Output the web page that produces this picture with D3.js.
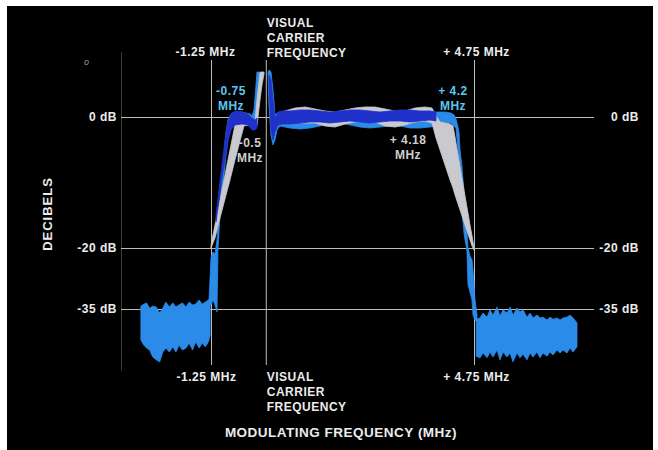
<!DOCTYPE html>
<html lang="en">
<head>
    <meta charset="UTF-8">
    <title>Visual transmitter amplitude response</title>
    <style>
        body { margin: 0; background: #fff; }
        svg { display: block; }
        .axis text, .lbl {
            font-family: "Liberation Sans", Arial, sans-serif;
            font-weight: bold;
            font-size: 12px;
            letter-spacing: 0.5px;
            fill: #ececec;
        }
        .axis line { stroke: #bdbdbd; }
        .axis .domain { stroke: #3a3a3a; }
        .cyan { fill: #5cc6f0; }
        .greyTxt { fill: #cfcfcf; }
    </style>
</head>
<body>
    <svg id="chart" width="658" height="450"></svg>

    <script src="https://cdn.jsdelivr.net/npm/d3@7"></script>
    <script>
        // ticks and labels
        const freqTicks = [-1.25, 0, 4.75];
        const freqTickLabels = ["-1.25 MHz", "", "+ 4.75 MHz"];
        const carrierLines = ["VISUAL", "CARRIER", "FREQUENCY"];
        const dbTicks = [0, -20, -35];
        const dbTickLabels = ["0 dB", "-20 dB", "-35 dB"];
        const noteLines = [["-0.75", "MHz"], ["-0.5", "MHz"], ["+ 4.2", "MHz"], ["+ 4.18", "MHz"]];

        // light blue trace: MHz, upper and lower edge in dB (null = gap at the carrier)
        const envFreq = [-1.296, -1.25, -1.205, -1.159, -1.113, -1.091, -1.045, -0.999, -0.954, -0.908, -0.862, -0.794, -0.703, -0.543, -0.36, -0.315, -0.269, -0.224, -0.201, -0.155, -0.132,
            0,
            0.05, 0.073, 0.119, 0.164, 0.21, 0.256, 0.324, 0.552, 0.78, 1.008, 1.237, 1.465, 1.693, 1.921, 2.149, 2.377, 2.605, 2.834, 3.062, 3.29, 3.518, 3.746, 3.906, 4.089,
            4.225, 4.294, 4.339, 4.385, 4.408, 4.431, 4.453, 4.476, 4.522, 4.545, 4.568, 4.59, 4.613, 4.659, 4.705, 4.727, 4.773, 4.819];
        const envHi = [-32.79, -22.46, -20.98, -21.48, -18.78, -16.49, -12.67, -9.31, -5.8, -2.44, -0.46, 0.46, 0.76, 0.76, 0.46, 0.15, 1.07, 4.89, 6.87, 6.87, 5.95,
            null,
            6.87, 7.18, 6.87, 4.12, 0.31, 0.61, 0.76, 0.76, 0.61, 0.76, 0.76, 0.61, 0.76, 0.92, 0.76, 0.76, 0.76, 0.76, 0.76, 0.76, 0.76, 0.76, 0.76, 0.76,
            0.61, 0.31, -0.31, -1.53, -2.44, -5.04, -6.26, -7.63, -11.45, -12.67, -14.96, -17.71, -20.0, -21.97, -22.95, -25.41, -32.79, -36.47];
        const envLo = [-34.26, -34.02, -32.79, -34.02, -35.74, -20.49, -14.96, -11.91, -8.85, -5.8, -3.51, -1.68, -1.07, -1.22, -1.37, -1.68, -1.68, -1.22, 1.07, 4.89, 5.65,
            null,
            6.56, 1.83, -2.75, -4.27, -3.51, -1.98, -1.37, -1.68, -1.83, -1.68, -1.37, -1.07, -0.92, -1.22, -1.53, -1.68, -1.53, -1.37, -1.37, -1.68, -1.68, -1.53, -1.37, -0.92,
            -0.92, -1.37, -1.68, -5.04, -7.63, -10.08, -12.67, -14.35, -17.71, -18.78, -19.54, -20.98, -29.1, -30.82, -32.79, -36.47, -37.7, -38.2];

        // grey trace
        const greyFreq = [-1.25, -1.159, -1.045, -0.931, -0.817, -0.703, -0.589, -0.497, -0.36, -0.246, -0.201, -0.132, -0.087, -0.041,
            0,
            0.278, 0.438, 0.666, 0.894, 1.123, 1.351, 1.579, 1.807, 2.035, 2.263, 2.491, 2.72, 2.948, 3.176, 3.404, 3.632, 3.792,
            3.883, 3.975, 4.089, 4.203, 4.271, 4.317, 4.431, 4.545, 4.613, 4.659, 4.705, 4.75];
        const greyHi = [-19.54, -16.49, -12.67, -8.85, -5.04, -1.22, -0.46, 0, 0.15, -0.76, 2.6, 6.87, 6.87, 6.87,
            null,
            0.61, 0.92, 1.37, 1.53, 1.22, 0.92, 0.76, 1.07, 1.37, 1.53, 1.53, 1.22, 0.92, 0.92, 1.37, 1.53, 1.37,
            0.15, -0.76, -0.92, -1.07, -1.37, -3.05, -7.63, -12.06, -14.66, -16.49, -18.17, -20.0];
        const greyLo = [-20.0, -18.47, -15.42, -12.52, -9.62, -6.56, -3.66, -1.37, -1.07, -1.37, -1.37, 2.6, 4.89, 6.56,
            null,
            -0.46, -0.76, -0.76, -0.92, -0.92, -1.37, -1.53, -1.07, -0.76, -0.61, -0.76, -1.37, -1.53, -1.22, -0.76, -0.61, -0.92,
            -3.21, -5.04, -7.33, -9.62, -10.84, -11.91, -14.2, -16.49, -17.86, -18.78, -19.69, -20.49];

        // dark blue trace
        const darkFreq = [-1.136, -1.068, -0.999, -0.931, -0.862, -0.794, -0.703, -0.543, -0.406, -0.315, -0.246, -0.201,
            0,
            0.073, 0.119, 0.164, 0.21, 0.278, 0.37, 0.552, 0.78, 1.008, 1.237, 1.465, 1.693, 1.921, 2.149, 2.377, 2.605, 2.834, 3.062, 3.29, 3.518, 3.746, 3.883];
        const darkHi = [-14.96, -11.15, -7.33, -3.51, -0.76, 0.46, 0.92, 0.76, 0.46, -0.15, -0.46, -0.15,
            null,
            6.41, 5.65, 2.6, -0.15, 0.76, 0.92, 0.92, 1.07, 1.07, 0.92, 0.76, 0.92, 1.07, 1.07, 0.92, 0.76, 0.92, 1.07, 1.07, 0.92, 0.92, 0.76];
        const darkLo = [-16.03, -12.67, -9.31, -6.56, -3.51, -1.98, -1.22, -1.07, -1.22, -1.98, -1.98, -1.68,
            null,
            4.89, -1.98, -3.51, -2.29, -1.22, -1.07, -1.07, -0.92, -0.76, -0.76, -0.92, -0.76, -0.61, -0.76, -0.92, -0.76, -0.61, -0.61, -0.76, -0.61, -0.46, -0.61];

        // out-of-band noise floors
        const floorLFreq = [-2.85, -2.78, -2.72, -2.65, -2.58, -2.5, -2.42, -2.35, -2.28, -2.2, -2.12, -2.05, -1.98, -1.9, -1.82, -1.75, -1.67, -1.6, -1.52, -1.45, -1.38, -1.31, -1.27];
        const floorLHi = [-34.3, -33.8, -33.5, -34.8, -34.3, -34.5, -36.0, -34.8, -33.3, -34.5, -33.5, -34.5, -34.0, -33.5, -34.5, -33.3, -34.0, -33.8, -32.8, -33.8, -33.3, -32.8, -32.3];
        const floorLLo = [-42.6, -43.9, -44.6, -45.1, -46.8, -47.5, -48.0, -45.6, -44.6, -45.6, -44.3, -45.6, -43.9, -45.1, -44.6, -43.4, -45.1, -43.1, -44.6, -43.4, -44.3, -43.1, -41.4];
        const floorRFreq = [4.8, 4.887, 4.956, 5.047, 5.115, 5.184, 5.275, 5.343, 5.412, 5.503, 5.572, 5.64, 5.731, 5.8, 5.868, 5.959, 6.028, 6.096, 6.187, 6.256, 6.324, 6.416, 6.484, 6.553, 6.644, 6.713, 6.781, 6.872, 6.941, 7.009, 7.1];
        const floorRHi = [-37.5, -37.2, -36.0, -37.0, -35.2, -36.5, -34.5, -36.7, -35.2, -36.0, -34.5, -36.5, -34.75, -35.7, -35.2, -37.0, -36.0, -37.2, -36.5, -37.2, -37.0, -37.7, -37.0, -37.5, -37.2, -37.7, -37.2, -37.0, -36.5, -37.2, -38.4];
        const floorRLo = [-46.6, -47.0, -45.8, -47.0, -45.6, -46.8, -45.1, -47.5, -45.6, -46.8, -45.8, -48.0, -45.8, -47.0, -46.1, -47.5, -45.8, -46.8, -45.6, -47.0, -45.8, -46.6, -45.6, -46.3, -45.1, -45.8, -45.1, -45.8, -44.6, -45.6, -44.3];

        const rows = (f, hi, lo) => f.map((d, i) => ({f: d, hi: hi[i], lo: lo[i]}));

        const svg = d3.select("#chart");
        svg.append("rect")
           .attr("x", 7).attr("y", 6)
           .attr("width", 646).attr("height", 444)
           .attr("fill", "#000");

        const x = d3.scaleLinear().domain([-1.25, 4.75]).range([211, 474]);
        // the scale is stretched between 0 and -20 dB, as in the original drawing
        const y = d3.scaleLinear().domain([-50, -35, -20, 0, 10]).range([370, 309, 248, 117, 51.5]);

        // horizontal grid with left labels
        svg.append("g")
           .attr("class", "axis")
           .attr("transform", "translate(121,0)")
           .call(d3.axisLeft(y).tickValues(dbTicks).tickFormat((d, i) => dbTickLabels[i])
                 .tickSize(-473).tickSizeOuter(0).tickPadding(4));

        // right labels
        svg.append("g")
           .attr("class", "axis")
           .attr("transform", "translate(598,0)")
           .call(d3.axisRight(y).tickValues(dbTicks).tickFormat((d, i) => dbTickLabels[i]).tickSize(0))
           .call(g => g.select(".domain").remove())
           .selectAll("text")
           .attr("text-anchor", "end")
           .attr("x", 41);

        // vertical grid with top labels
        svg.append("g")
           .attr("class", "axis")
           .attr("transform", "translate(0,60)")
           .call(d3.axisTop(x).tickValues(freqTicks).tickFormat((d, i) => freqTickLabels[i])
                 .tickSize(-305).tickPadding(4))
           .call(g => g.select(".domain").remove())
           .selectAll("text")
           .attr("dx", d => d < 0 ? -6 : 2);

        // bottom labels
        svg.append("g")
           .attr("class", "axis")
           .attr("transform", "translate(0,365)")
           .call(d3.axisBottom(x).tickValues(freqTicks).tickFormat((d, i) => freqTickLabels[i])
                 .tickSize(0).tickPadding(7))
           .call(g => g.select(".domain").remove())
           .selectAll("text")
           .attr("dx", d => d < 0 ? -5 : 2);

        // traces
        const area = d3.area()
            .defined(d => d.hi !== null)
            .x(d => x(d.f))
            .y0(d => y(d.lo))
            .y1(d => y(d.hi));

        const traces = [
            [rows(floorLFreq, floorLHi, floorLLo), "#2b8be8"],
            [rows(floorRFreq, floorRHi, floorRLo), "#2b8be8"],
            [rows(envFreq, envHi, envLo), "#2b8be8"],
            [rows(greyFreq, greyHi, greyLo), "#c9c9cf"],
            [rows(darkFreq, darkHi, darkLo), "#2031c9"]
        ];
        svg.append("g")
           .selectAll("path")
           .data(traces)
           .enter().append("path")
           .attr("d", d => area(d[0]))
           .attr("fill", d => d[1])
           .attr("stroke", d => d[1])
           .attr("stroke-width", 0.8);

        // carrier label, top and bottom
        [[27, 42, 57], [381, 396, 411]].forEach(ys => {
            svg.append("g")
               .selectAll("text")
               .data(carrierLines)
               .enter().append("text")
               .attr("class", "lbl")
               .attr("x", x(0) + 1)
               .attr("y", (d, i) => ys[i])
               .text(d => d);
        });

        // notes on the traces
        const notePos = [[231, 95, "cyan"], [250, 147, "greyTxt"], [453, 95, "cyan"], [408, 144, "greyTxt"]];
        noteLines.forEach((lines, k) => {
            svg.append("g")
               .selectAll("text")
               .data(lines)
               .enter().append("text")
               .attr("class", "lbl " + notePos[k][2])
               .attr("text-anchor", "middle")
               .attr("x", notePos[k][0])
               .attr("y", (d, i) => notePos[k][1] + i * 15)
               .text(d => d);
        });

        svg.append("text")
           .attr("class", "lbl")
           .attr("x", 84).attr("y", 65)
           .style("font-size", "9px").style("fill", "#999")
           .style("font-style", "italic").style("font-weight", "normal")
           .text("o");

        svg.append("text")
           .attr("class", "lbl")
           .attr("transform", "translate(52,214) rotate(-90)")
           .attr("text-anchor", "middle")
           .style("font-size", "13px").style("letter-spacing", "1px")
           .text("DECIBELS");

        svg.append("text")
           .attr("class", "lbl")
           .attr("x", 341).attr("y", 437)
           .attr("text-anchor", "middle")
           .style("font-size", "13.5px")
           .text("MODULATING FREQUENCY (MHz)");
    </script>
</body>
</html>
